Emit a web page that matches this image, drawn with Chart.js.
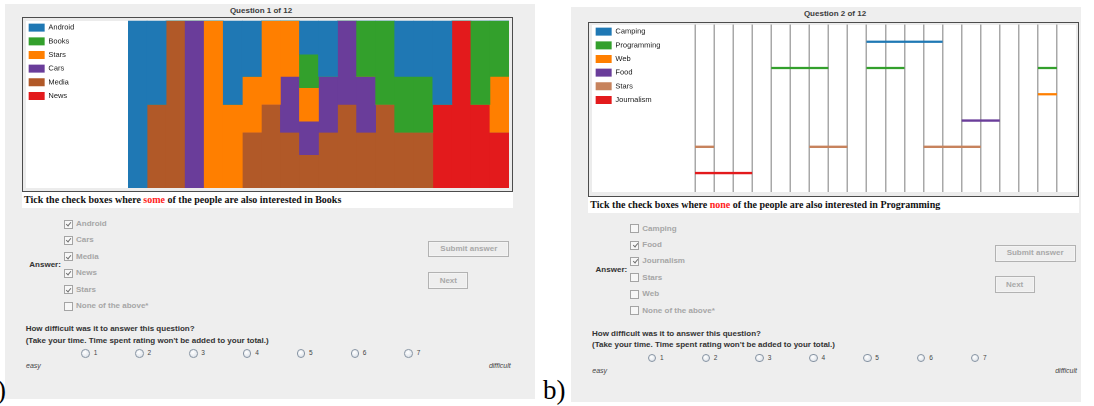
<!DOCTYPE html>
<html><head><meta charset="utf-8">
<script src="https://cdn.jsdelivr.net/npm/chart.js@4.4.1/dist/chart.umd.min.js"></script>
<style>
html,body{margin:0;padding:0;background:#fff;}
body{width:1094px;height:406px;position:relative;overflow:hidden;font-family:"Liberation Sans",Arial,sans-serif;}
.a{position:absolute;white-space:nowrap;}
.panel{background:#eeeeee;}
.title{font-weight:bold;font-size:8px;color:#3c3c3c;text-align:center;line-height:10px;}
.frame{box-sizing:border-box;border:1px solid #4c4c4c;background:#ececec;}
.white{background:#fff;}
.instr{font-family:"Liberation Serif","Times New Roman",serif;font-weight:bold;font-size:10px;line-height:16px;color:#111;padding-left:2px;box-sizing:border-box;}
.instr .hl{color:#ff2222;}
.lbl{font-weight:bold;font-size:8px;line-height:10px;}
.dark{color:#333;}
.gray{color:#a6a6a6;}
.cb{box-sizing:border-box;width:9px;height:9px;border:1px solid #a4a4a4;background:#f7f7f7;}
.cb.on::after{content:"";position:absolute;left:2.4px;top:0.6px;width:2px;height:4.2px;border:solid #707070;border-width:0 1.3px 1.3px 0;transform:rotate(40deg);}
.btn{box-sizing:border-box;border:1px solid #b2b2b2;box-shadow:inset 0 0 0 1px #f3f3f3;background:#eeeeee;color:#a9a9a9;font-weight:bold;font-size:8px;text-align:center;}
.radio{box-sizing:border-box;width:8.5px;height:8.5px;border-radius:50%;border:1px solid #8794a3;background:radial-gradient(circle at 40% 35%,#ffffff,#d6dce4);}
.num{font-size:6.5px;color:#444;line-height:8px;}
.ital{font-style:italic;font-size:7px;color:#444;line-height:8px;}
.big{font-family:"Liberation Serif","Times New Roman",serif;font-size:27px;line-height:27px;color:#000;}
canvas{position:absolute;}
</style></head>
<body>
<script>
// ---------------- DATA ----------------
// Question 1: stacked share of each interest within 20 groups of people
const q1Groups = ['1','2','3','4','5','6','7','8','9','10','11','12','13','14','15','16','17','18','19','20'];
const q1SeriesNames = ['Android','Books','Stars','Cars','Media','News'];
const q1Android = [1, 0.5, 0, 0, 0, 0.5, 0.333, 0, 0, 0.2, 0.333, 0, 0, 0, 0.333, 0.333, 0.5, 0, 0, 0];
const q1Books   = [0, 0, 0, 0, 0, 0, 0, 0, 0, 0.2, 0, 0, 0.333, 0.5, 0.333, 0.333, 0, 0, 0.5, 0.333];
const q1Stars   = [0, 0, 0, 0, 1, 0.5, 0.333, 0.5, 0.333, 0.2, 0, 0, 0, 0, 0, 0, 0, 0, 0, 0.333];
const q1Cars    = [0, 0, 0, 1, 0, 0, 0, 0, 0.333, 0.2, 0.333, 0.5, 0.333, 0, 0, 0, 0, 0, 0, 0];
const q1Media   = [0, 0.5, 1, 0, 0, 0, 0.333, 0.5, 0.333, 0.2, 0.333, 0.5, 0.333, 0.5, 0.333, 0.333, 0, 0, 0, 0];
const q1News    = [0, 0, 0, 0, 0, 0, 0, 0, 0, 0, 0, 0, 0, 0, 0, 0, 0.5, 1, 0.5, 0.333];

// Question 2: horizontal segments [from, to] on a 20-slot axis, one row per interest
const q2SeriesNames = ['Camping','Programming','Web','Food','Stars','Journalism'];
const q2RowValues = [6, 5, 4, 3, 2, 1];
const q2Camping     = [[9, 13]];
const q2Programming = [[4, 7], [9, 11], [18, 19]];
const q2Web         = [[18, 19]];
const q2Food        = [[14, 16]];
const q2Stars       = [[0, 1], [6, 8], [12, 15]];
const q2Journalism  = [[0, 3]];
const q2AxisMin = 0, q2AxisMax = 20;

// Answer forms
const q1Options = ['Android','Cars','Media','News','Stars','None of the above*'];
const q1Checked = [true, true, true, true, true, false];
const q2Options = ['Camping','Food','Journalism','Stars','Web','None of the above*'];
const q2Checked = [false, true, true, false, false, false];
const ratingLabels = ['1','2','3','4','5','6','7'];

// ---------------- STYLE ----------------
const q1Colors = ['#1f78b4','#33a02c','#ff7f00','#6a3d9a','#b15928','#e31a1c'];
const q2Colors = ['#1f78b4','#33a02c','#ff7f00','#6a3d9a','#c7835d','#e31a1c'];

function add(cls, x, y, w, h, html){
  const d = document.createElement('div');
  d.className = 'a ' + cls;
  d.style.left = x + 'px'; d.style.top = y + 'px';
  if (w != null) d.style.width = w + 'px';
  if (h != null) d.style.height = h + 'px';
  if (html != null) d.innerHTML = html;
  document.body.appendChild(d);
  return d;
}

const legendLabels = {
  boxWidth: 16, boxHeight: 8, padding: 5.66, color: '#1a1a1a',
  font: { size: 7.5, family: '"Liberation Sans", Arial, sans-serif' },
  generateLabels(chart){
    const items = Chart.defaults.plugins.legend.labels.generateLabels(chart);
    items.forEach(it => { it.lineWidth = 0; it.strokeStyle = 'rgba(0,0,0,0)'; });
    return items;
  }
};
const PLOT_LEFT = 105;

function buildPanel(c){
  const X = v => v + c.ox, Y = v => v + c.oy;
  add('panel', c.bg[0], c.bg[1], c.bg[2], c.bg[3]);
  add('title', c.titleX - 100, c.titleY - 5, 200, null, c.title);
  add('frame', X(22), Y(17), 491, 175);
  add('white', X(26), Y(20.6), 483.4, 167);
  const cv = document.createElement('canvas');
  cv.width = 486; cv.height = 170;
  cv.style.left = X(23.3) + 'px'; cv.style.top = Y(17.7) + 'px';
  cv.style.width = '486px'; cv.style.height = '170px';
  document.body.appendChild(cv);
  add('white instr', X(22), Y(192), 491, 16, c.instr);
  add('lbl dark', X(29.3), Y(260), null, null, 'Answer:');
  c.options.forEach((o, i) => {
    const cy = 224 + i * 16.4;
    add('cb' + (c.checked[i] ? ' on' : ''), X(64), Y(cy - 4.5), null, null);
    add('lbl gray', X(76), Y(cy - 5), null, null, o);
  });
  const b1 = add('btn', X(428.3), Y(240.7), 81, 16.6, 'Submit answer'); b1.style.lineHeight = '14.6px';
  const b2 = add('btn', X(428.3), Y(271.7), 40, 17, 'Next'); b2.style.lineHeight = '15px';
  add('lbl dark', X(25.7), Y(324.3), null, null, 'How difficult was it to answer this question?');
  add('lbl dark', X(25.7), Y(335.7), null, null, '(Take your time. Time spent rating won\'t be added to your total.)');
  ratingLabels.forEach((r, i) => {
    const cx = 85.7 + i * 53.83;
    add('radio', X(cx - 4.25), Y(353.3 - 4.25), null, null);
    add('num', X(cx + 8), Y(353.3 - 4), null, null, r);
  });
  add('ital', X(26), Y(362), null, null, 'easy');
  const d = add('ital', X(410.7), Y(362), 100, null, 'difficult'); d.style.textAlign = 'right';
  return cv;
}

const cv1 = buildPanel({ox:0, oy:0, bg:[5,4,530,395], titleX:261, titleY:11, title:'Question 1 of 12',
  instr:'Tick the check boxes where <span class="hl">some</span> of the people are also interested in Books',
  options:q1Options, checked:q1Checked});
const cv2 = buildPanel({ox:566.3, oy:4.6, bg:[571,7,510,395], titleX:835, titleY:14, title:'Question 2 of 12',
  instr:'Tick the check boxes where <span class="hl">none</span> of the people are also interested in Programming',
  options:q2Options, checked:q2Checked});

add('big', -15, 377.4, null, null, 'a)');
add('big', 543, 377.4, null, null, 'b)');

// ---------------- CHART 1 ----------------
const q1Values = [q1Android, q1Books, q1Stars, q1Cars, q1Media, q1News];
new Chart(cv1, {
  type: 'bar',
  data: {
    labels: q1Groups,
    datasets: q1SeriesNames.map((n, i) => ({
      label: n, data: q1Values[i], backgroundColor: q1Colors[i],
      borderWidth: 0, barPercentage: 1, categoryPercentage: 1
    }))
  },
  options: {
    responsive: false, animation: false, devicePixelRatio: 2,
    layout: { padding: 0 },
    plugins: {
      legend: { position: 'left', align: 'start', labels: legendLabels },
      tooltip: { enabled: false }
    },
    scales: {
      x: { position: 'top', stacked: true, ticks: { display: false }, grid: { display: false },
           border: { display: false }, afterFit(ax){ ax.height = 2.7; } },
      y: { stacked: true, reverse: true, min: 0, max: 0.999, ticks: { display: false },
           grid: { display: false }, border: { display: false },
           afterFit(ax){ ax.width = PLOT_LEFT - ax.chart.legend.width; } }
    }
  }
});

// ---------------- CHART 2 ----------------
const q2Segments = [q2Camping, q2Programming, q2Web, q2Food, q2Stars, q2Journalism];
function segmentPoints(segs, row){
  const pts = [];
  segs.forEach(s => { pts.push({x: s[0], y: row}, {x: s[1], y: row}, {x: s[1], y: null}); });
  return pts;
}
new Chart(cv2, {
  type: 'line',
  data: {
    datasets: q2SeriesNames.map((n, i) => ({
      label: n, data: segmentPoints(q2Segments[i], q2RowValues[i]),
      borderColor: q2Colors[i], backgroundColor: q2Colors[i], borderWidth: 2.3,
      pointRadius: 0, spanGaps: false, borderCapStyle: 'butt', tension: 0
    }))
  },
  options: {
    responsive: false, animation: false, devicePixelRatio: 2,
    layout: { padding: 0 },
    plugins: {
      legend: { position: 'left', align: 'start', labels: legendLabels },
      tooltip: { enabled: false }
    },
    scales: {
      x: { type: 'linear', position: 'top', min: q2AxisMin, max: q2AxisMax,
           ticks: { display: false, stepSize: 1, maxTicksLimit: 50 },
           grid: { drawTicks: false, lineWidth: 1.5,
                   color: ctx => (ctx.tick && ctx.tick.value >= q2AxisMax) ? 'rgba(0,0,0,0)' : '#a8a8a8' },
           border: { display: false }, afterFit(ax){ ax.height = 2.4; } },
      y: { type: 'linear', min: 0.28, max: 6.66, ticks: { display: false },
           grid: { display: false }, border: { display: false },
           afterFit(ax){ ax.width = PLOT_LEFT - ax.chart.legend.width; } }
    }
  }
});
</script>
</body></html>
